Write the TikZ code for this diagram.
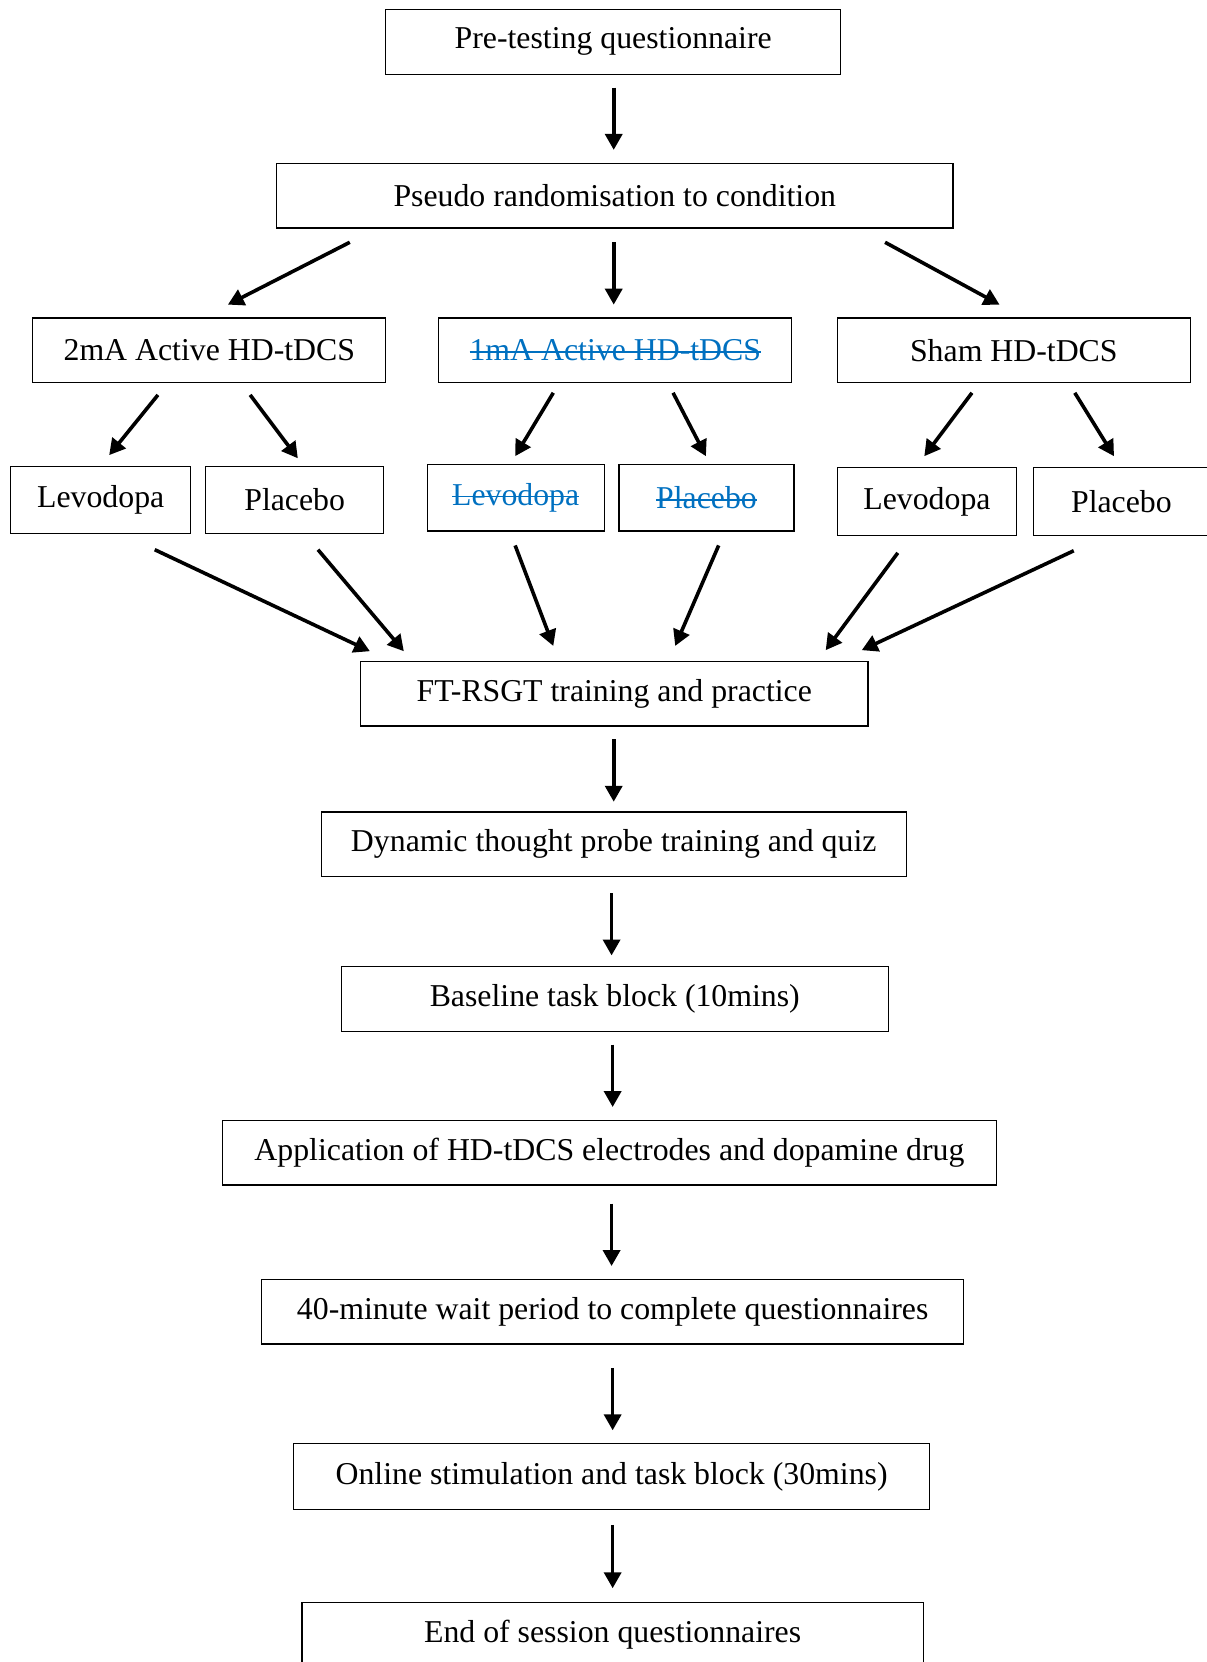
\documentclass[tikz,border=0pt]{standalone}
\usepackage{fontspec}
\setmainfont{Liberation Serif}
\usetikzlibrary{arrows.meta,calc}
\definecolor{strikeblue}{RGB}{0,112,192}
\newsavebox\strikebox
\newcommand\mystrike[1]{\sbox\strikebox{#1}\rlap{\usebox\strikebox}\rule[0.25em]{\wd\strikebox}{0.8pt}}
\tikzset{
  box/.style={draw=black, line width=0.6pt, inner sep=0pt, minimum height=30.5pt,
    font=\fontsize{15pt}{18pt}\selectfont, anchor=center},
  arr/.style={line width=1.7pt, -{Triangle[length=7.5pt,width=8pt]}},
  struck/.style={text=strikeblue}
}
\begin{document}
\begin{tikzpicture}[x=0.5pt,y=-0.5pt]
\useasboundingbox (0,0) rectangle (1138,1568);
% nodes
\node[box, minimum width=214.5pt] (pre) at (578.5,39.5) {Pre-testing questionnaire};
\node[box, minimum width=319pt] (pseudo) at (580,184.5) {Pseudo randomisation to condition};
\node[box, minimum width=166.5pt] (a2) at (197.5,330.5) {2mA Active HD-tDCS};
\node[box, minimum width=166.5pt, struck] (a1) at (580.5,330.5) {\mystrike{1mA Active HD-tDCS}};
\node[box, minimum width=166.5pt] (sham) at (956.5,330.5) {Sham HD-tDCS};
\node[box, minimum width=85pt, minimum height=31.5pt] (lev1) at (95,471.5) {Levodopa};
\node[box, minimum width=84pt, minimum height=31.5pt] (pla1) at (278,471.5) {Placebo};
\node[box, minimum width=83.5pt, minimum height=31.5pt, struck] (lev2) at (486.5,469.5) {\mystrike{Levodopa}};
\node[box, minimum width=82.5pt, minimum height=31.5pt, struck] (pla2) at (666.5,469.5) {\mystrike{Placebo}};
\node[box, minimum width=84.5pt, minimum height=32pt] (lev3) at (874.5,473) {Levodopa};
\node[box, minimum width=83pt, minimum height=32pt] (pla3) at (1058,473) {Placebo};
\node[box, minimum width=239.5pt] (ft) at (579.5,654.5) {FT-RSGT training and practice};
\node[box, minimum width=276pt] (dyn) at (579,796.5) {Dynamic thought probe training and quiz};
\node[box, minimum width=258pt] (base) at (580,942.5) {Baseline task block (10mins)};
\node[box, minimum width=365pt] (app) at (575,1087.5) {Application of HD-tDCS electrodes and dopamine drug};
\node[box, minimum width=331pt] (wait) at (578,1237.5) {40-minute wait period to complete questionnaires};
\node[box, minimum width=300pt, minimum height=31pt] (online) at (577,1393) {Online stimulation and task block (30mins)};
\node[box, minimum width=293pt] (endq) at (578,1542.5) {End of session questionnaires};
% arrows top
\draw[arr] ($(pre.south)+(0.5,12)$) -- ($(pseudo.north)+(-1,-12)$);
\draw[arr] ($(pseudo.south)+(-250,13)$) -- ($(a2.north)+(17.5,-12)$);
\draw[arr] ($(pseudo.south)+(-1,13)$) -- ($(a1.north)+(-1.5,-12)$);
\draw[arr] ($(pseudo.south)+(255,13)$) -- ($(sham.north)+(-13.5,-12)$);
% to drug arms
\draw[arr] ($(a2.south)+(-48.5,11)$) -- ($(lev1.north)+(8,-10)$);
\draw[arr] ($(a2.south)+(38.5,11)$) -- ($(pla1.north)+(3,-7)$);
\draw[arr] ($(a1.south)+(-58.5,9)$) -- ($(lev2.north)+(-0.5,-7)$);
\draw[arr] ($(a1.south)+(54.5,9)$) -- ($(pla2.north)+(-0.5,-7)$);
\draw[arr] ($(sham.south)+(-39.5,9)$) -- ($(lev3.north)+(-2.5,-10)$);
\draw[arr] ($(sham.south)+(57.5,9)$) -- ($(pla3.north)+(-7,-10)$);
% to training
\draw[arr] ($(lev1.south)+(51,15)$) -- ($(ft.north)+(-230.5,-9)$);
\draw[arr] ($(pla1.south)+(22,15)$) -- ($(ft.north)+(-198.5,-9)$);
\draw[arr] ($(lev2.south)+(-0.5,13)$) -- ($(ft.north)+(-57.5,-14)$);
\draw[arr] ($(pla2.south)+(11.5,13)$) -- ($(ft.north)+(57.5,-14)$);
\draw[arr] ($(lev3.south)+(-27.5,16)$) -- ($(ft.north)+(199.5,-10)$);
\draw[arr] ($(pla3.south)+(-45,14)$) -- ($(ft.north)+(233.5,-10)$);
% vertical chain
\draw[arr] ($(ft.south)+(-0.5,12)$) -- ($(dyn.north)+(0,-9)$);
\draw[arr] ($(dyn.south)+(-2,15)$) -- ($(base.north)+(-3,-10)$);
\draw[arr] ($(base.south)+(-2,12)$) -- ($(app.north)+(3,-12)$);
\draw[arr] ($(app.south)+(2,17)$) -- ($(wait.north)+(-1,-12)$);
\draw[arr] ($(wait.south)+(0,22)$) -- ($(online.north)+(1,-12)$);
\draw[arr] ($(online.south)+(1,14)$) -- ($(endq.north)+(0,-13)$);
\end{tikzpicture}
\end{document}
